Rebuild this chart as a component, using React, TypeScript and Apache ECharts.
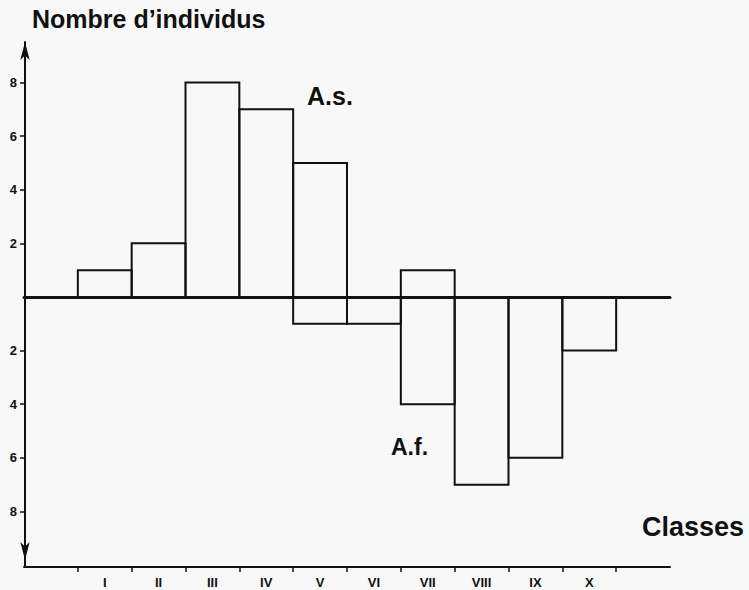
import React, { useEffect, useRef } from "react";
import * as echarts from "echarts";

const classes = ["I", "II", "III", "IV", "V", "VI", "VII", "VIII", "IX", "X"];
const asValues = [1, 2, 8, 7, 5, 0, 1, 0, 0, 0];
const afValues = [0, 0, 0, 0, 1, 1, 4, 7, 6, 2];
const yTicks = [-8, -6, -4, -2, 2, 4, 6, 8];
const classBounds = [0, 1, 2, 3, 4, 5, 6, 7, 8, 9, 10];
const classCenters = [0.5, 1.5, 2.5, 3.5, 4.5, 5.5, 6.5, 7.5, 8.5, 9.5];

const INK = "#111";
const FONT = "'Liberation Sans', Arial, sans-serif";

export default function App() {
  const ref = useRef<HTMLDivElement>(null);
  useEffect(() => {
    if (!ref.current) return;
    const chart = echarts.init(ref.current, null, { renderer: "svg" });
    const barData: number[][] = [];
    asValues.forEach((v, i) => { if (v) barData.push([i, v]); });
    afValues.forEach((v, i) => { if (v) barData.push([i, -v]); });
    chart.setOption({
      animation: false,
      backgroundColor: "#f8f8f8",
      grid: { left: 24, right: 79, top: 42, bottom: 23, containLabel: false },
      xAxis: [
        {
          type: "value", min: -1, max: 11, position: "bottom",
          axisLine: { onZero: false, lineStyle: { color: INK, width: 2 } },
          axisTick: { show: true, customValues: classBounds, length: 5, lineStyle: { color: INK, width: 1.5 } },
          axisLabel: {
            customValues: classCenters, color: INK, fontWeight: "bold", fontSize: 13, fontFamily: FONT, margin: 9,
            formatter: (v: number) => classes[Math.round(v - 0.5)] ?? "",
          },
          splitLine: { show: false },
        },
        {
          type: "value", min: -1, max: 11, position: "top",
          axisLine: { onZero: true, lineStyle: { color: INK, width: 3 } },
          axisTick: { show: false }, axisLabel: { show: false }, splitLine: { show: false },
        },
      ],
      yAxis: {
        type: "value", min: -10.07, max: 9.51, offset: -1,
        axisLine: {
          onZero: false, symbol: ["arrow", "arrow"], symbolSize: [7, 18], symbolOffset: [7, 0],
          lineStyle: { color: INK, width: 2 },
        },
        axisTick: { show: true, customValues: yTicks, length: 5, lineStyle: { color: INK, width: 1.5 } },
        axisLabel: {
          customValues: yTicks, color: INK, fontWeight: "bold", fontSize: 13, fontFamily: FONT, margin: 8,
          formatter: (v: number) => String(Math.abs(v)),
        },
        splitLine: { show: false },
      },
      series: [
        {
          type: "custom", xAxisIndex: 0, yAxisIndex: 0,
          data: barData,
          renderItem: (params: any, api: any) => {
            const i = api.value(0);
            const v = api.value(1);
            const p0 = api.coord([i, 0]);
            const p1 = api.coord([i + 1, v]);
            return {
              type: "rect",
              shape: { x: p0[0], y: Math.min(p0[1], p1[1]), width: p1[0] - p0[0], height: Math.abs(p1[1] - p0[1]) },
              style: { fill: "none", stroke: INK, lineWidth: 2 },
            };
          },
          z: 1,
        },
      ],
      graphic: [
        { type: "text", left: 32, top: 6, style: { text: "Nombre d\u2019individus", fill: INK, font: `bold 25px ${FONT}` } },
        { type: "text", left: 642, top: 513, style: { text: "Classes", fill: INK, font: `bold 27px ${FONT}` } },
        { type: "text", left: 307, top: 83, style: { text: "A.s.", fill: INK, font: `bold 25px ${FONT}` } },
        { type: "text", left: 391, top: 435, style: { text: "A.f.", fill: INK, font: `bold 23px ${FONT}` } },
      ],
    });
    return () => chart.dispose();
  }, []);
  return <div ref={ref} style={{ width: 749, height: 590, position: "absolute", left: 0, top: 0 }} />;
}
